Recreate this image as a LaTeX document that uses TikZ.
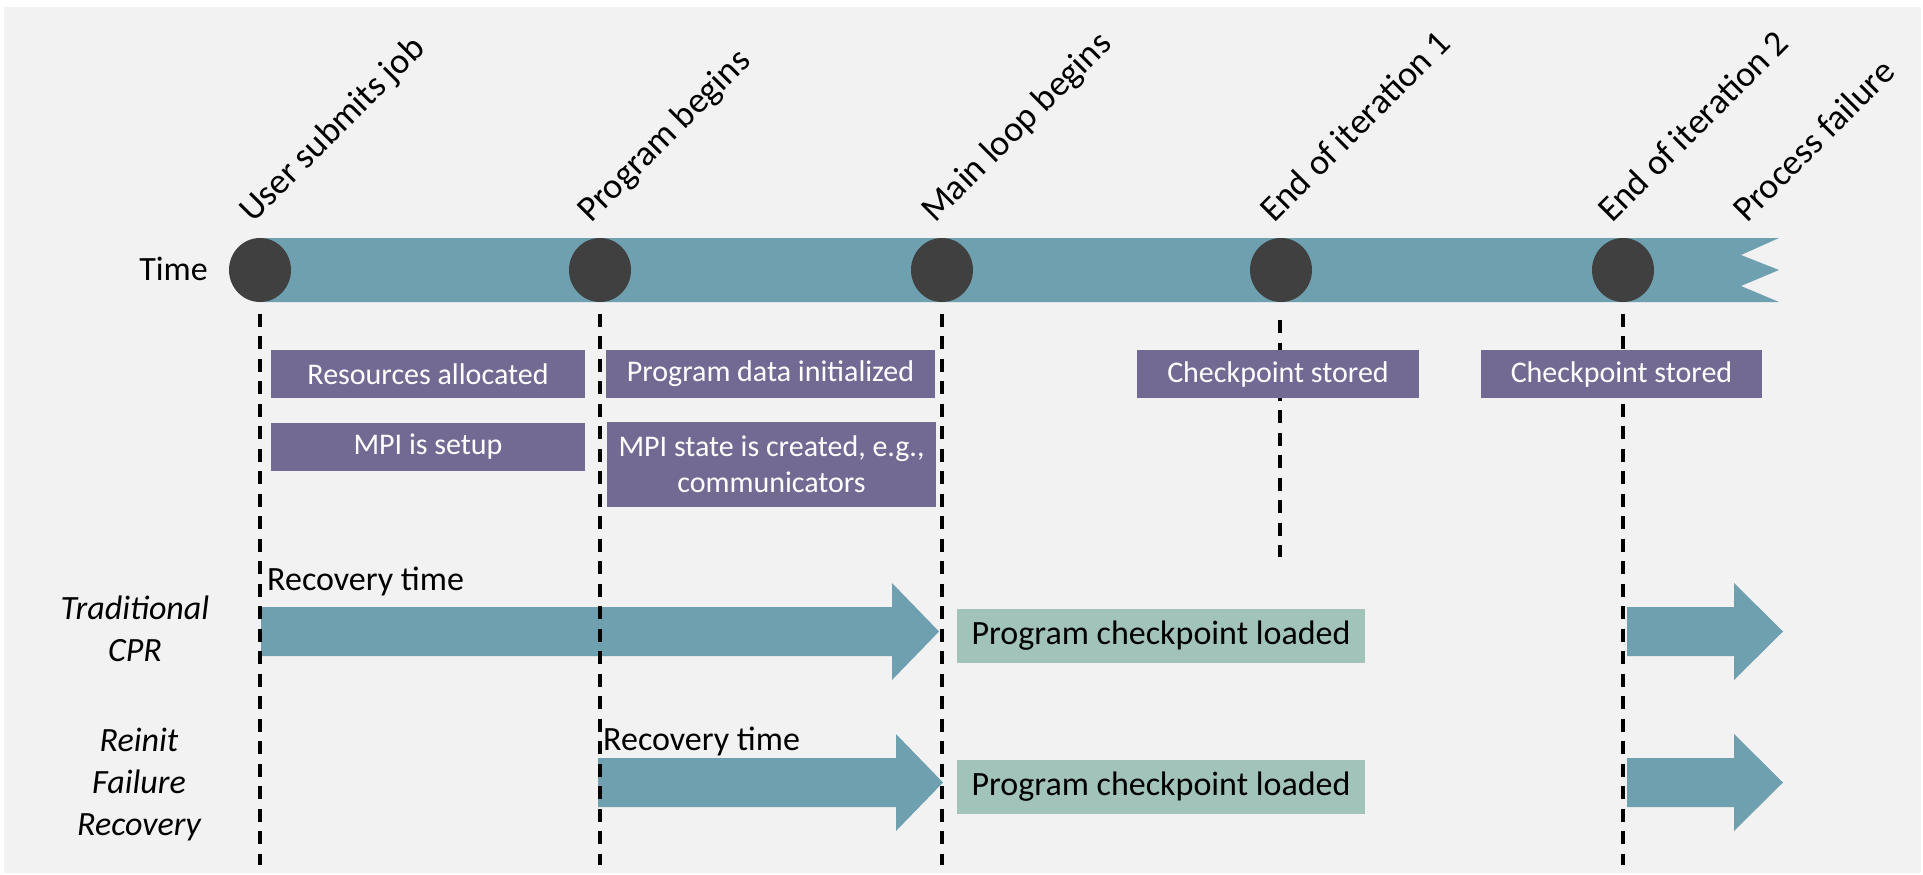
\documentclass[tikz,border=0pt]{standalone}
\usepackage{fontspec}
\setmainfont{Carlito}
\usetikzlibrary{shapes.geometric}
\definecolor{bgray}{HTML}{F2F2F2}
\definecolor{tealbar}{HTML}{6FA0B0}
\definecolor{lilac}{HTML}{736A94}
\definecolor{sage}{HTML}{A2C3B9}
\definecolor{dot}{HTML}{404040}
% fat arrow: start x, head x, tip x, middle y
\newcommand{\recarrow}[4]{\fill[tealbar] (#1,#4-24.5) -- (#2,#4-24.5) -- (#2,#4-48.5) -- (#3,#4) -- (#2,#4+48.5) -- (#2,#4+24.5) -- (#1,#4+24.5) -- cycle;}

\begin{document}
\begin{tikzpicture}[x=1pt,y=-1pt,
  evt/.style={ellipse, fill=dot, minimum width=62pt, minimum height=64pt, inner sep=0pt},
  tlabel/.style={rotate=45, anchor=base west, inner sep=0pt, font=\fontsize{36}{40}\selectfont},
  guide/.style={line width=3.3pt, dash pattern=on 13pt off 9.5pt, dash phase=13pt, shorten <=2pt},
  task/.style={fill=lilac, text=white, align=center, inner sep=0pt, minimum height=48pt, font=\fontsize{30}{36}\selectfont},
  load/.style={fill=sage, minimum width=408pt, minimum height=54pt, inner sep=0pt, font=\fontsize{34}{40}\selectfont},
  row/.style={align=center, inner sep=0pt, font=\fontsize{34}{42}\selectfont\itshape},
  plain/.style={inner sep=0pt, font=\fontsize{34}{40}\selectfont}]
\useasboundingbox (0,0) rectangle (1923,875);
\fill[bgray] (4,7) rectangle (1921,873);
%\draw [lightgray](0,0) grid (1923,875);

% time bar
\fill[tealbar] (260,238) -- (1779,238) -- (1741,255) -- (1779,270) -- (1741,286) -- (1779,302) -- (260,302) -- cycle;
\node[plain, anchor=base east] (time) at (208,280) {Time};

\node[evt] (submit) at (260,270) {};
\node[evt] (start)  at (600,270) {};
\node[evt] (loop)   at (942,270) {};
\node[evt] (iterA)  at (1281,270) {};
\node[evt] (iterB)  at (1623,270) {};

\node[tlabel] (lsubmit) at (253,224)  {User submits job};
\node[tlabel] (lstart)  at (591,224)  {Program begins};
\node[tlabel] (lloop)   at (935,224)  {Main loop begins};
\node[tlabel] (literA)  at (1274,224) {End of iteration 1};
\node[tlabel] (literB)  at (1612,224) {End of iteration 2};
\node[tlabel] (lfail)   at (1747,224) {Process failure};

% recovery arrows
\recarrow{261}{892}{939}{631.5}
\recarrow{598}{896}{943}{782.5}
\recarrow{1627}{1734}{1783}{631.5}
\recarrow{1627}{1734}{1783}{782.5}

% dashed guides
\coordinate (bot) at (0,865);
\coordinate (iterAtop) at (1280,320);
\coordinate (iterAbot) at (1280,557);
\draw[guide] (submit.south) -- (submit |- bot);
\draw[guide] (start.south) -- (start |- bot);
\draw[guide] (loop.south) -- (loop |- bot);
\draw[guide, dash phase=0pt, shorten <=0pt] (iterAtop) -- (iterAbot);
\draw[guide] (iterB.south) -- (iterB |- bot);

% phases
\node[task, minimum width=314pt] (alloc) at (428,374) {Resources allocated};
\node[task, minimum width=314pt] (mpiup) at (428,447) {MPI is setup};
\node[task, minimum width=329pt] (init)  at (770.5,374) {Program data initialized};
\node[task, minimum width=329pt, minimum height=85pt] (comm) at (771.5,464.5) {MPI state is created, e.g.,\\communicators};
\node[task, minimum width=282pt] (ckptA) at (1278,374) {Checkpoint stored};
\node[task, minimum width=281pt] (ckptB) at (1621.5,374) {Checkpoint stored};

\node[load] (loadA) at (1161,636) {Program checkpoint loaded};
\node[load] (loadB) at (1161,787) {Program checkpoint loaded};

\node[plain, anchor=base west] (recA) at (267,590) {Recovery time};
\node[plain, anchor=base west] (recB) at (603,750) {Recovery time};

\node[row] (trad)   at (135,629) {Traditional\\CPR};
\node[row] (reinit) at (139,785) {Reinit\\Failure\\Recovery};
\end{tikzpicture}
\end{document}
